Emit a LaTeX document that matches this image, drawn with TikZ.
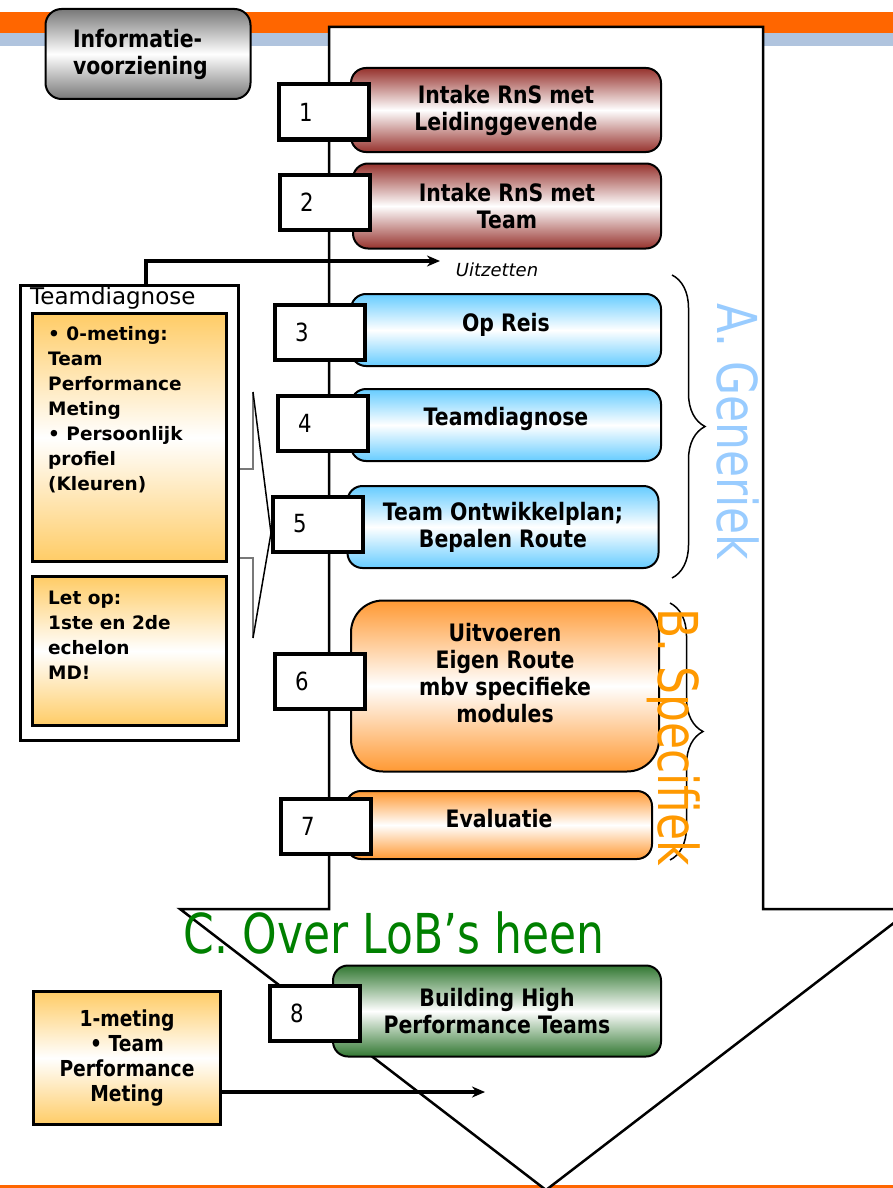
\documentclass[tikz,border=0pt]{standalone}
\usepackage{fontspec}
\setmainfont{DejaVu Sans}
\newfontfamily\smalfont[FakeStretch=0.85]{DejaVu Sans}
\newfontfamily\langfont[FakeStretch=0.8]{DejaVu Sans}
\usetikzlibrary{arrows.meta,decorations.pathreplacing}

\definecolor{bandoranje}{RGB}{255,102,0}
\definecolor{bandblauw}{RGB}{176,196,222}
\definecolor{bruinrood}{RGB}{150,50,45}
\definecolor{lichtblauw}{RGB}{102,204,255}
\definecolor{oranje}{RGB}{255,153,51}
\definecolor{donkergroen}{RGB}{50,120,50}
\definecolor{geel}{RGB}{255,204,102}
\definecolor{grijs}{RGB}{120,120,120}
\definecolor{generiek}{RGB}{153,204,255}
\definecolor{specifiek}{RGB}{255,153,0}
\definecolor{overlob}{RGB}{0,128,0}

\begin{document}
\begin{tikzpicture}[x=1pt, y=-1pt,
    stap/.style={draw, line width=2pt, rounded corners=15pt, align=center,
        font=\smalfont\bfseries\fontsize{24}{27}\selectfont},
    rood/.style={stap, top color=bruinrood, bottom color=bruinrood, middle color=white},
    blauw/.style={stap, top color=lichtblauw, bottom color=lichtblauw, middle color=white},
    oranjestap/.style={stap, top color=oranje, bottom color=oranje, middle color=white},
    groen/.style={stap, top color=donkergroen, bottom color=donkergroen, middle color=white},
    nummer/.style={draw, line width=4pt, fill=white, text width=50pt, inner xsep=20pt,
        minimum height=55pt, align=left, font=\smalfont\fontsize{25}{25}\selectfont},
    geelvak/.style={draw, line width=3pt, top color=geel, bottom color=geel, middle color=white},
    vaktekst/.style={align=left, inner sep=0pt, font=\bfseries\fontsize{18.5}{25}\selectfont},
    fase/.style={font=\langfont\fontsize{55}{55}\selectfont},
    pijl/.style={line width=3.5pt, -{Stealth[length=13pt, width=11pt]}}]

    % achtergrond
    \useasboundingbox (0,0) rectangle (893,1188);
    \fill[bandoranje] (0,12) rectangle (893,33);
    \fill[bandblauw] (0,33) rectangle (893,46);
    \fill[bandoranje] (0,1185) rectangle (893,1188);

    % grote pijl
    \draw[line width=2.5pt, fill=white] (329,27) -- (763,27) -- (763,909) -- (912,909)
        -- (546,1190) -- (180,909) -- (329,909) -- cycle;

    \node[stap, rounded corners=16pt, top color=grijs, bottom color=grijs, middle color=white,
        minimum width=205pt, minimum height=90pt, text width=150pt, align=left] (info) at (148,54) {Informatie-\\voorziening};

    % stappen
    \node[rood, minimum width=310pt, minimum height=84pt] (intakeLG) at (506,110) {Intake RnS met\\Leidinggevende};
    \node[rood, minimum width=308pt, minimum height=85pt] (intakeT) at (507,206) {Intake RnS met\\Team};
    \node[blauw, minimum width=310pt, minimum height=72pt, text depth=16pt] (opreis) at (506,330) {Op Reis};
    \node[blauw, minimum width=310pt, minimum height=72pt, text depth=18pt] (diagnose) at (506,425) {Teamdiagnose};
    \node[blauw, minimum width=311pt, minimum height=82pt] (plan) at (503,527) {Team Ontwikkelplan;\\Bepalen Route};
    \node[oranjestap, rounded corners=32pt, minimum width=308pt, minimum height=171pt] (uitvoeren) at (505,686)
        {Uitvoeren\\Eigen Route\\mbv specifieke\\modules\\\mbox{}};
    \node[oranjestap, minimum width=306pt, minimum height=68pt, text depth=14pt] (evaluatie) at (499,825) {Evaluatie};
    \node[groen, minimum width=328pt, minimum height=91pt] (hpt) at (497,1011) {Building High\\Performance Teams};

    \node[nummer] (n1) at (324,112) {1};
    \node[nummer] (n2) at (325,202) {2};
    \node[nummer] (n3) at (320,332) {3};
    \node[nummer] (n4) at (323,423) {4};
    \node[nummer] (n5) at (318,524) {5};
    \node[nummer] (n6) at (320,681) {6};
    \node[nummer] (n7) at (326,826) {7};
    \node[nummer] (n8) at (315,1013) {8};

    % teamdiagnose
    \node[draw, line width=3pt, fill=white, minimum width=218pt, minimum height=455pt] (diag) at (129.5,513) {};
    \node[anchor=north west, inner sep=0pt, font=\fontsize{23}{23}\selectfont] (diagtitel) at (30,287) {Teamdiagnose};
    \node[geelvak, minimum width=194pt, minimum height=248pt] (meting0) at (129.5,437.5) {};
    \node[vaktekst, anchor=north west] (meting0tekst) at ([xshift=17pt, yshift=-14pt]meting0.north west)
        {\textbullet\ 0-meting:\\Team\\Performance\\Meting\\\textbullet\ Persoonlijk\\profiel\\(Kleuren)};
    \node[geelvak, minimum width=194pt, minimum height=149pt] (letop) at (129.5,651) {};
    \node[vaktekst, anchor=north west] (letoptekst) at ([xshift=17pt, yshift=-16pt]letop.north west)
        {Let op:\\1ste en 2de\\echelon\\MD!};

    \coordinate (callboven) at (253,392);
    \coordinate (callonder) at (253,638);
    \draw[grijs, line width=2pt] (callboven) -- (253,469) -- (240,469);
    \draw[grijs, line width=2pt] (240,558) -- (253,558) -- (callonder);
    \draw[line width=1.5pt] (callboven) -- ([yshift=-9pt]n5.west) -- (callonder);

    \coordinate (uitzet) at (440,261);
    \draw[pijl] ([xshift=16.5pt]diag.north) |- (uitzet);
    \node[font=\itshape\fontsize{18}{18}\selectfont] (uitzetlabel) at (497,270) {Uitzetten};

    % 1-meting
    \node[geelvak, align=center, minimum width=187pt, minimum height=133pt,
        font=\smalfont\bfseries\fontsize{22}{25}\selectfont] (meting1) at (127,1058) {1-meting\\\textbullet\ Team\\Performance\\Meting};
    \coordinate (metingpijl) at (485,1092);
    \draw[pijl] (meting1.east |- metingpijl) -- (metingpijl);

    % accolades en fasen
    \coordinate (genboven) at (672,275);
    \coordinate (genonder) at (672,578);
    \coordinate (specboven) at (670,603);
    \coordinate (speconder) at (670,860);
    \draw[decorate, decoration={brace, amplitude=33pt}, line width=1.5pt] (genboven) -- (genonder);
    \draw[decorate, decoration={brace, amplitude=33pt}, line width=1.5pt] (specboven) -- (speconder);

    \node[fase, text=generiek, rotate=-90] (generiek) at (738,432) {A. Generiek};
    \node[fase, text=specifiek, rotate=-90] (specifiek) at (674,737) {B. Specifiek};
    \node[fase, text=overlob] (overlob) at (394,933) {C. Over LoB’s heen};
\end{tikzpicture}
\end{document}
